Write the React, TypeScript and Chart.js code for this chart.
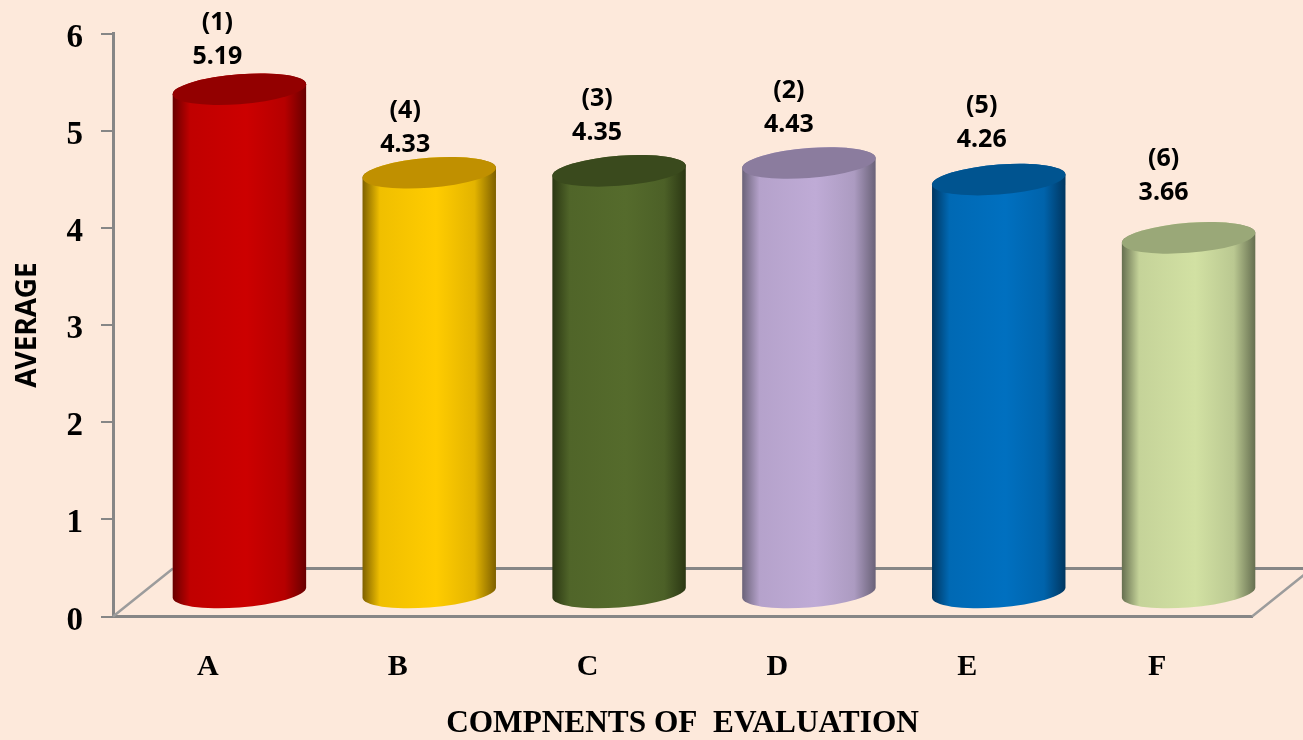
import React, { useEffect, useRef } from "react";
import { Chart, BarController, BarElement, CategoryScale, LinearScale } from "chart.js";

const categories = ["A", "B", "C", "D", "E", "F"];
const averages = [5.19, 4.33, 4.35, 4.43, 4.26, 3.66];
const ranks = ["(1)", "(4)", "(3)", "(2)", "(5)", "(6)"];

// Cylinder shading: side edge, lit body, and the darker end cap.
const edgeColors = ["#680000", "#7e6000", "#2b3713", "#6a6278", "#003660", "#666f50"];
const bodyColors = ["#cc0000", "#ffcc00", "#556b2c", "#bfabd6", "#0070c0", "#d2e1a3"];
const capColors = ["#930000", "#c09000", "#3a4a1d", "#8b7c9e", "#005490", "#9aa878"];

// Hand-placed nudges of the two-line labels relative to each cylinder top.
const labelShiftX = [-22, -24, -22, -20, -17, -25];
const labelShiftY = [-32.5, -28, -38, -38, -40, -45];

const SERIF = '"Liberation Serif", serif';
const SANS = '"Noto Sans", sans-serif';
const AXIS_GREY = "#868686";

// Oblique projection: where the cylinders stand and how deep the floor runs.
const BAR_DX = 31.5;
const BAR_DY = -23;
const FLOOR_DX = 60;
const FLOOR_DY = -48;
const CAP_RY = 15;
const CAP_SKEW = 5;

function mix(a: string, b: string, t: number): string {
  const ch = (h: string, i: number) => parseInt(h.slice(1 + i * 2, 3 + i * 2), 16);
  const parts = [0, 1, 2].map((i) => Math.round(ch(a, i) + (ch(b, i) - ch(a, i)) * t));
  return `rgb(${parts.join(",")})`;
}

class CylinderElement extends BarElement {
  static id = "cylinderBar";
  static defaults = { ...BarElement.defaults };

  draw(ctx: CanvasRenderingContext2D) {
    const { x, y, base, width } = (this as any).getProps(["x", "y", "base", "width"]);
    const i = (this as any).$context.dataIndex;
    const cx = x + BAR_DX;
    const top = y + BAR_DY;
    const bottom = base + BAR_DY;
    const a = width / 2;
    const skew = CAP_SKEW / a;

    const side = ctx.createLinearGradient(cx - a, 0, cx + a, 0);
    side.addColorStop(0, edgeColors[i]);
    side.addColorStop(0.13, mix(edgeColors[i], bodyColors[i], 0.88));
    side.addColorStop(0.55, bodyColors[i]);
    side.addColorStop(0.84, mix(edgeColors[i], bodyColors[i], 0.78));
    side.addColorStop(1, edgeColors[i]);

    ctx.save();
    ctx.beginPath();
    ctx.save();
    ctx.transform(1, -skew, 0, 1, cx, bottom);
    ctx.ellipse(0, 0, a, CAP_RY, 0, Math.PI, 0, true);
    ctx.restore();
    ctx.save();
    ctx.transform(1, -skew, 0, 1, cx, top);
    ctx.ellipse(0, 0, a, CAP_RY, 0, 0, Math.PI, true);
    ctx.restore();
    ctx.closePath();
    ctx.fillStyle = side;
    ctx.fill();

    ctx.beginPath();
    ctx.save();
    ctx.transform(1, -skew, 0, 1, cx, top);
    ctx.ellipse(0, 0, a, CAP_RY, 0, 0, Math.PI * 2);
    ctx.restore();
    ctx.fillStyle = capColors[i];
    ctx.fill();
    ctx.restore();
  }
}

class CylinderController extends BarController {
  static id = "cylinder";
  static defaults = { ...BarController.defaults, dataElementType: "cylinderBar" };
}

Chart.register(CylinderController, CylinderElement, CategoryScale, LinearScale);

// Back edge of the floor and its two slanted sides, behind the cylinders.
const floorPlugin = {
  id: "floor",
  beforeDatasetsDraw(chart: any) {
    const { ctx, chartArea, width } = chart;
    const { left, right, bottom } = chartArea;
    ctx.save();
    ctx.lineWidth = 3;
    ctx.strokeStyle = AXIS_GREY;
    ctx.beginPath();
    ctx.moveTo(left + FLOOR_DX, bottom + FLOOR_DY);
    ctx.lineTo(width, bottom + FLOOR_DY);
    ctx.stroke();
    ctx.strokeStyle = "#9c9c9c";
    ctx.lineWidth = 2.5;
    ctx.beginPath();
    ctx.moveTo(left, bottom);
    ctx.lineTo(left + FLOOR_DX, bottom + FLOOR_DY);
    ctx.moveTo(right, bottom);
    ctx.lineTo(right + FLOOR_DX, bottom + FLOOR_DY);
    ctx.stroke();
    ctx.restore();
  },
};

// Rank and value above every cylinder.
const labelPlugin = {
  id: "rankLabels",
  afterDatasetsDraw(chart: any) {
    const { ctx } = chart;
    const bars = chart.getDatasetMeta(0).data;
    ctx.save();
    ctx.fillStyle = "#000";
    ctx.textAlign = "center";
    ctx.textBaseline = "middle";
    ctx.font = `bold 25px ${SANS}`;
    bars.forEach((bar: any, i: number) => {
      const x = bar.x + BAR_DX + labelShiftX[i];
      const y = bar.y + BAR_DY + labelShiftY[i];
      ctx.fillText(averages[i].toFixed(2), x, y);
      ctx.fillText(ranks[i], x, y - 34);
    });
    ctx.restore();
  },
};

export default function App() {
  const ref = useRef<HTMLCanvasElement>(null);

  useEffect(() => {
    document.body.style.margin = "0";
    document.body.style.background = "#fde9db";
    const chart = new Chart(ref.current!, {
      type: "cylinder" as any,
      data: {
        labels: categories,
        datasets: [
          {
            data: averages,
            backgroundColor: bodyColors,
            categoryPercentage: 1,
            barPercentage: 0.703,
            clip: false as any,
          },
        ],
      },
      plugins: [floorPlugin, labelPlugin],
      options: {
        responsive: false,
        animation: false,
        events: [],
        layout: { padding: { top: 33.5, right: 51, left: 0, bottom: 0 } },
        plugins: { legend: { display: false } as any, tooltip: { enabled: false } as any },
        scales: {
          x: {
            type: "category",
            offset: true,
            afterFit(scale: any) {
              scale.height = 123.5;
            },
            border: { color: AXIS_GREY, width: 3 },
            grid: { display: false },
            ticks: {
              color: "#000",
              padding: 25,
              maxRotation: 0,
              font: { family: SERIF, size: 30, weight: "bold" },
            },
            title: {
              display: true,
              text: "COMPNENTS OF  EVALUATION",
              color: "#000",
              font: { family: SERIF, size: 31.3, weight: "bold" },
              padding: { top: 0, bottom: -3 },
            },
          },
          y: {
            type: "linear",
            min: 0,
            max: 6,
            afterFit(scale: any) {
              scale.width = 113;
              // The large tick labels must not push the plot area down.
              scale.paddingTop = 0;
              scale.paddingBottom = 0;
            },
            border: { color: AXIS_GREY, width: 3 },
            grid: {
              drawOnChartArea: false,
              drawTicks: true,
              tickLength: 12,
              tickColor: AXIS_GREY,
              lineWidth: 2,
            },
            ticks: {
              stepSize: 1,
              color: "#000",
              padding: 18,
              labelOffset: 4.5,
              font: { family: SERIF, size: 33, weight: "bold" },
            },
            title: {
              display: true,
              text: "AVERAGE",
              color: "#000",
              font: { family: SANS, size: 28, weight: "bold" },
              padding: { top: 11, bottom: 0 },
            },
          },
        },
      },
    } as any);
    return () => chart.destroy();
  }, []);

  return (
    <div style={{ width: 1303, height: 740, overflow: "hidden", background: "#fde9db" }}>
      <canvas ref={ref} width={1303} height={740} style={{ display: "block" }} />
    </div>
  );
}
